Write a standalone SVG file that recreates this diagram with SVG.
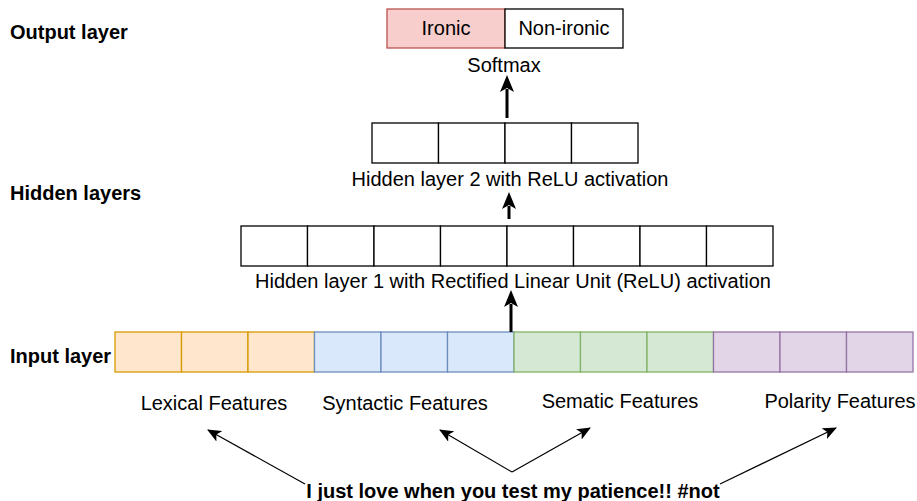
<svg xmlns="http://www.w3.org/2000/svg" width="917" height="501" viewBox="0 0 917 501">
<defs>
<style>
text{font-family:"Liberation Sans",Arial,sans-serif;font-size:20px;fill:#000}
.b{font-weight:bold}
.m{text-anchor:middle}
.cell{stroke-width:1.3}
.k{fill:#fff;stroke:#000}
.o{fill:#ffe6cc;stroke:#d79b00}
.bl{fill:#dae8fc;stroke:#6c8ebf}
.g{fill:#d5e8d4;stroke:#82b366}
.p{fill:#e1d5e7;stroke:#9673a6}
.r{fill:#f8cecc;stroke:#b85450}
.thick{stroke:#000;stroke-width:3;fill:none}
.thin{stroke:#000;stroke-width:1.2;fill:none}
</style>
<marker id="big" markerUnits="userSpaceOnUse" markerWidth="17" markerHeight="14" viewBox="0 0 17 14" refX="3" refY="7" orient="auto">
<path d="M0,0 L17,7 L0,14 L4,7 Z" fill="#000"/>
</marker>
<marker id="sm" markerUnits="userSpaceOnUse" markerWidth="14" markerHeight="12" viewBox="0 0 14 12" refX="13" refY="6" orient="auto">
<path d="M0,0 L14,6 L0,12 L3.5,6 Z" fill="#000"/>
</marker>
</defs>
<rect width="917" height="501" fill="#fff"/>
<g id="labels">
<text class="b" x="10" y="39">Output layer</text>
<text class="b" x="10" y="200">Hidden layers</text>
<text class="b" x="10" y="363">Input layer</text>
</g>
<g id="output-layer">
<rect class="cell r" x="387" y="9" width="118" height="39"/>
<rect class="cell k" x="505" y="9" width="118" height="39"/>
<text class="m" x="446" y="35">Ironic</text>
<text class="m" x="564" y="35">Non-ironic</text>
<text class="m" x="504" y="72">Softmax</text>
</g>
<g id="hidden-layer-2">
<rect class="cell k" x="372" y="123" width="66.5" height="40"/>
<rect class="cell k" x="438.5" y="123" width="66.5" height="40"/>
<rect class="cell k" x="505" y="123" width="66.5" height="40"/>
<rect class="cell k" x="571.5" y="123" width="66.5" height="40"/>
<text class="m" x="510" y="186">Hidden layer 2 with ReLU activation</text>
</g>
<g id="hidden-layer-1">
<rect class="cell k" x="241" y="226" width="66.5" height="40"/>
<rect class="cell k" x="307.5" y="226" width="66.5" height="40"/>
<rect class="cell k" x="374" y="226" width="66.5" height="40"/>
<rect class="cell k" x="440.5" y="226" width="66.5" height="40"/>
<rect class="cell k" x="507" y="226" width="66.5" height="40"/>
<rect class="cell k" x="573.5" y="226" width="66.5" height="40"/>
<rect class="cell k" x="640" y="226" width="66.5" height="40"/>
<rect class="cell k" x="706.5" y="226" width="66.5" height="40"/>
<text class="m" x="513" y="288">Hidden layer 1 with Rectified Linear Unit (ReLU) activation</text>
</g>
<g id="input-layer">
<rect class="cell o" x="115" y="332" width="66.5" height="40"/>
<rect class="cell o" x="181.5" y="332" width="66.5" height="40"/>
<rect class="cell o" x="248" y="332" width="66.5" height="40"/>
<rect class="cell bl" x="314.5" y="332" width="66.5" height="40"/>
<rect class="cell bl" x="381" y="332" width="66.5" height="40"/>
<rect class="cell bl" x="447.5" y="332" width="66.5" height="40"/>
<rect class="cell g" x="514" y="332" width="66.5" height="40"/>
<rect class="cell g" x="580.5" y="332" width="66.5" height="40"/>
<rect class="cell g" x="647" y="332" width="66.5" height="40"/>
<rect class="cell p" x="713.5" y="332" width="66.5" height="40"/>
<rect class="cell p" x="780" y="332" width="66.5" height="40"/>
<rect class="cell p" x="846.5" y="332" width="66.5" height="40"/>
</g>
<g id="feature-labels">
<text class="m" x="214" y="410">Lexical Features</text>
<text class="m" x="405" y="410">Syntactic Features</text>
<text class="m" x="620" y="408">Sematic Features</text>
<text class="m" x="840" y="408">Polarity Features</text>
</g>
<g id="sentence">
<text class="b m" x="513" y="498">I just love when you test my patience!! #not</text>
</g>
<g id="connectors">
<line class="thick" x1="511" y1="332" x2="511" y2="304" marker-end="url(#big)"/>
<line class="thick" x1="509" y1="219" x2="509" y2="206" marker-end="url(#big)"/>
<line class="thick" x1="507" y1="118" x2="507" y2="89" marker-end="url(#big)"/>
<line class="thin" x1="305" y1="484" x2="208" y2="430" marker-end="url(#sm)"/>
<line class="thin" x1="512" y1="472" x2="440" y2="430" marker-end="url(#sm)"/>
<line class="thin" x1="512" y1="472" x2="590" y2="428" marker-end="url(#sm)"/>
<line class="thin" x1="720" y1="484" x2="836" y2="428" marker-end="url(#sm)"/>
</g>
</svg>
